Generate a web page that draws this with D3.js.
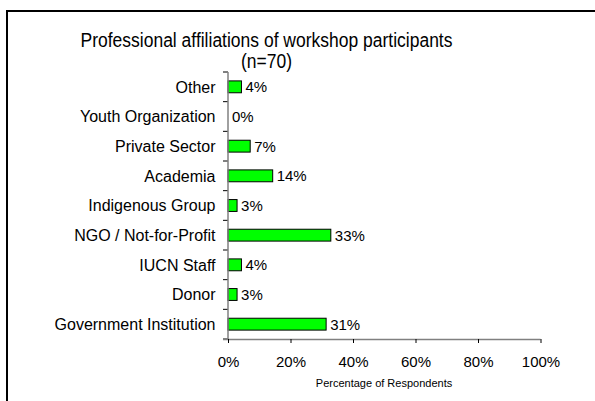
<!DOCTYPE html>
<html>
<head>
<meta charset="utf-8">
<script src="https://cdn.jsdelivr.net/npm/d3@7"></script>
<style>
  html, body { margin: 0; padding: 0; background: #fff; }
  svg { display: block; font-family: "Liberation Sans", Arial, sans-serif; }
</style>
</head>
<body>
<svg id="chart" width="595" height="401"></svg>
<script>
// Affiliation categories, top to bottom
const categories = [
  "Other", "Youth Organization", "Private Sector", "Academia",
  "Indigenous Group", "NGO / Not-for-Profit", "IUCN Staff", "Donor",
  "Government Institution"
];
// Share of respondents (%), n = 70
const percentages = [4.3, 0, 7.1, 14.3, 2.9, 32.9, 4.3, 2.9, 31.4];
const xTicks = [0, 20, 40, 60, 80, 100];
const titleLines = ["Professional affiliations of workshop participants", "(n=70)"];
const xAxisTitle = "Percentage of Respondents";

const data = categories.map((c, i) => ({ category: c, value: percentages[i] }));

const svg = d3.select("#chart");
const plot = { left: 228, right: 540.5, top: 72, bottom: 339 };

// Outer frame (top and left edges)
svg.append("path")
  .attr("d", `M7,401 V11 H595`)
  .attr("fill", "none").attr("stroke", "#000").attr("stroke-width", 2);

const x = d3.scaleLinear().domain([0, 100]).range([plot.left, plot.right]);
const y = d3.scaleBand().domain(categories).range([plot.top, plot.bottom])
  .paddingInner(0.6).paddingOuter(0.3);

// Title, slightly tall lettering
titleLines.forEach((t, i) => {
  svg.append("text")
    .attr("transform", `translate(266.5,${47 + i * 21}) scale(1,1.15)`)
    .attr("text-anchor", "middle")
    .attr("font-size", 17.5).attr("fill", "#000")
    .text(t);
});

// Bars
svg.append("g").selectAll("rect").data(data).join("rect")
  .attr("x", x(0))
  .attr("y", d => y(d.category))
  .attr("width", d => x(d.value) - x(0))
  .attr("height", y.bandwidth())
  .attr("fill", "#00ff00")
  .attr("stroke", d => d.value > 0 ? "#000" : "none")
  .attr("stroke-width", 1);

// Value labels
svg.append("g").selectAll("text").data(data).join("text")
  .attr("x", d => x(d.value) + 4)
  .attr("y", d => y(d.category) + y.bandwidth() / 2)
  .attr("dy", "0.36em")
  .attr("font-size", 15)
  .attr("fill", "#000")
  .text(d => Math.round(d.value) + "%");

// Category labels
svg.append("g").selectAll("text").data(data).join("text")
  .attr("x", plot.left - 12.5)
  .attr("y", d => y(d.category) + y.bandwidth() / 2)
  .attr("dy", "0.36em")
  .attr("text-anchor", "end")
  .attr("font-size", 16)
  .attr("fill", "#000")
  .text(d => d.category);

// Y axis: line with ticks at category boundaries
const step = y.step();
const boundaries = d3.range(categories.length + 1).map(i => plot.top + i * step);
svg.append("g").selectAll("line").data(boundaries).join("line")
  .attr("x1", plot.left - 5).attr("x2", plot.left)
  .attr("y1", d => d).attr("y2", d => d)
  .attr("stroke", "#000").attr("stroke-width", 1);
svg.append("line")
  .attr("x1", plot.left).attr("x2", plot.left)
  .attr("y1", plot.top).attr("y2", plot.bottom)
  .attr("stroke", "#808080").attr("stroke-width", 1.5);

// X axis
const xAxis = svg.append("g")
  .attr("transform", `translate(0,${plot.bottom})`)
  .call(d3.axisBottom(x).tickValues(xTicks).tickSize(4).tickPadding(13)
    .tickFormat(d => d + "%"));
xAxis.select(".domain").attr("stroke", "#808080").attr("stroke-width", 1.5)
  .attr("d", `M${plot.left - 5},0.5H${plot.right}`);
xAxis.selectAll(".tick line").attr("stroke", "#000");
xAxis.selectAll(".tick text").attr("font-size", 15)
  .attr("font-family", "Liberation Sans, Arial, sans-serif").attr("fill", "#000");

// X axis title
svg.append("text")
  .attr("x", 384)
  .attr("y", 387)
  .attr("text-anchor", "middle")
  .attr("font-size", 11)
  .attr("fill", "#000")
  .text(xAxisTitle);
</script>
</body>
</html>
